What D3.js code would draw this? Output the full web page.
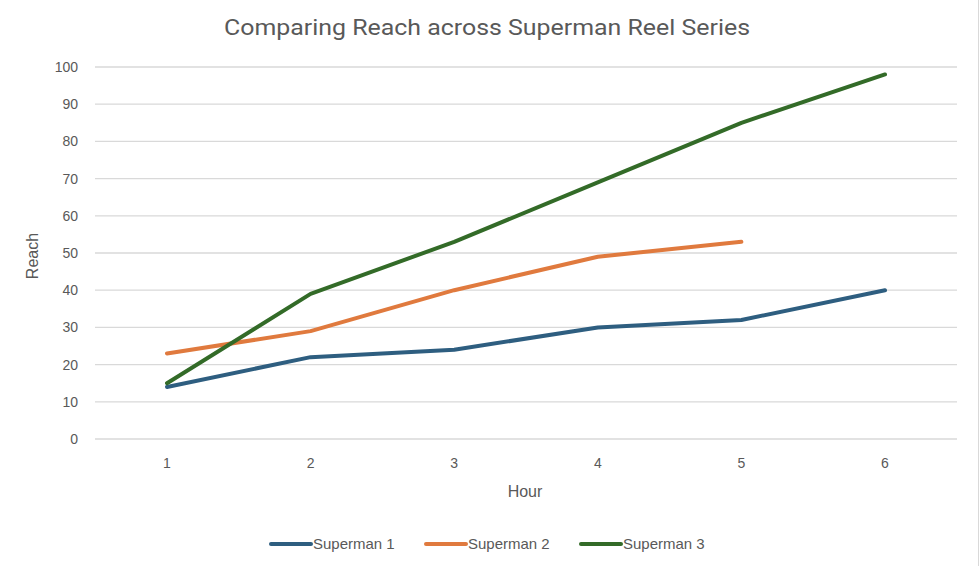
<!DOCTYPE html>
<html><head><meta charset="utf-8">
<script src="https://cdn.jsdelivr.net/npm/d3@7"></script>
<style>body{margin:0;background:#fff;} text{font-family:"Liberation Sans",Arial,sans-serif;}</style>
</head><body>
<svg id="c" width="980" height="566"></svg>
<script>
const hours = ["1","2","3","4","5","6"];
const superman1 = [14, 22, 24, 30, 32, 40];
const superman2 = [23, 29, 40, 49, 53, null];
const superman3 = [15, 39, 53, 69, 85, 98];
const seriesNames = ["Superman 1", "Superman 2", "Superman 3"];
const colors = ["#2E5E80", "#E07A3E", "#336B28"];
const yTicks = [0,10,20,30,40,50,60,70,80,90,100];

const svg = d3.select("#c");
svg.append("line").attr("x1",978.5).attr("x2",978.5).attr("y1",0).attr("y2",566)
  .attr("stroke","#d9d9d9");

const x = d3.scalePoint().domain(hours).range([167, 885]);
const y = d3.scaleLinear().domain([0,100]).range([439, 67]);
const left = 95, right = 957;

svg.append("g").selectAll("line").data(yTicks).join("line")
  .attr("x1", left).attr("x2", right)
  .attr("y1", d=>y(d)).attr("y2", d=>y(d))
  .attr("stroke","#d9d9d9").attr("stroke-width",1.3);

svg.append("g").selectAll("text").data(yTicks).join("text")
  .attr("x", 78).attr("y", d=>y(d)).attr("dy","0.35em")
  .attr("text-anchor","end").attr("font-size",14).attr("fill","#595959")
  .text(d=>d);

svg.append("g").selectAll("text").data(hours).join("text")
  .attr("x", d=>x(d)).attr("y", 463).attr("dy","0.35em")
  .attr("text-anchor","middle").attr("font-size",14).attr("fill","#595959")
  .text(d=>d);

svg.append("text").attr("x",525).attr("y",491).attr("dy","0.35em")
  .attr("text-anchor","middle").attr("font-size",16).attr("fill","#595959").text("Hour");
svg.append("text").attr("transform","translate(32,256) rotate(-90)").attr("dy","0.35em")
  .attr("text-anchor","middle").attr("font-size",16).attr("fill","#595959").text("Reach");

svg.append("text").attr("x",487).attr("y",27).attr("dy","0.35em")
  .attr("text-anchor","middle").attr("font-size",22).attr("fill","#595959")
  .style("font-family","Roboto, sans-serif")
  .attr("textLength",526).attr("lengthAdjust","spacingAndGlyphs")
  .text("Comparing Reach across Superman Reel Series");

const data = [superman1, superman2, superman3];
const line = d3.line().defined(d=>d.v!=null).x(d=>x(d.h)).y(d=>y(d.v));
data.forEach((s,i)=>{
  svg.append("path").datum(s.map((v,j)=>({h:hours[j], v})))
    .attr("d", line).attr("fill","none").attr("stroke",colors[i])
    .attr("stroke-width",4).attr("stroke-linecap","round").attr("stroke-linejoin","round");
});

const legX = [271, 426, 581];
const lg = svg.append("g");
seriesNames.forEach((n,i)=>{
  lg.append("line").attr("x1",legX[i]).attr("x2",legX[i]+40).attr("y1",544).attr("y2",544)
    .attr("stroke",colors[i]).attr("stroke-width",4).attr("stroke-linecap","round");
  lg.append("text").attr("x",legX[i]+42).attr("y",544).attr("dy","0.35em")
    .attr("font-size",15).attr("fill","#595959").text(n);
});
</script>
</body></html>
